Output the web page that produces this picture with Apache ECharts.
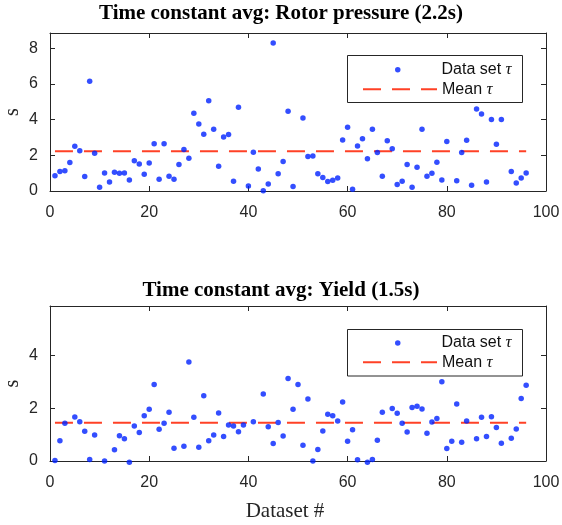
<!DOCTYPE html>
<html>
<head>
<meta charset="utf-8">
<script src="https://cdn.jsdelivr.net/npm/echarts@6/dist/echarts.min.js"></script>
<style>
  html, body { margin: 0; padding: 0; background: #fff; }
  #chart { width: 562px; height: 525px; }
</style>
</head>
<body>
<div id="chart"></div>
<script>
// time constant per dataset (s), null = no value
const rotorTau = [
  0.86, 1.09, 1.14, 1.59, 2.50, 2.26, 0.81, 6.15, 2.11, 0.21,
  1.01, 0.50, 1.05, 0.99, 1.01, 0.62, 1.70, 1.51, 0.94, 1.57,
  2.65, 0.66, 2.65, 0.82, 0.66, 1.48, 2.32, 1.83, 4.35, 3.75,
  3.18, 5.06, 3.46, 1.38, 3.03, 3.16, 0.54, 4.69, null, 0.28,
  2.17, 1.23, 0.02, 0.39, 8.29, 0.97, 1.65, 4.47, 0.25, null,
  4.09, 1.93, 1.96, 0.97, 0.75, 0.53, 0.60, 0.73, 2.86, 3.57,
  0.10, 2.52, 2.93, 1.81, 3.46, 2.15, 0.82, 2.82, 2.37, 0.36,
  0.54, 1.48, 0.21, 1.33, 3.46, 0.82, 0.99, 1.61, 0.62, 2.77,
  null, 0.57, 2.15, 2.84, 0.32, 4.59, 4.31, 0.50, 4.00, 2.62,
  4.00, null, 1.09, 0.45, 0.73, 1.01
];
const yieldTau = [
  0.02, 0.77, 1.43, null, 1.67, 1.49, 1.13, 0.06, 0.99, null,
  0.00, null, 0.43, 0.96, 0.84, -0.05, 1.33, 1.08, 1.72, 1.96,
  2.90, 1.20, 1.43, 1.85, 0.48, null, 0.56, 3.76, 1.66, 0.52,
  2.48, 0.77, 0.99, 1.82, 0.93, 1.37, 1.33, 1.11, 1.37, null,
  1.49, null, 2.54, 1.30, 0.66, 1.46, 0.95, 3.13, 1.96, 2.90,
  0.60, 2.35, 0.00, 0.44, 1.14, 1.77, 1.72, 1.52, 2.24, 0.75,
  1.19, 0.05, null, -0.05, 0.06, 0.79, 1.85, null, 1.99, 1.81,
  1.43, 1.10, 2.03, 2.08, 1.97, 1.05, 1.48, 1.61, 3.01, 0.47,
  0.75, 2.16, 0.71, 1.52, null, 0.84, 1.66, 0.93, 1.68, 1.27,
  0.67, null, 0.86, 1.21, 2.37, 2.87
];
const rotorMean = 2.22;
const yieldMean = 1.45;
const titles = ['Time constant avg: Rotor pressure (2.2s)', 'Time constant avg: Yield (1.5s)'];
const yMax = [8.85, 5.88];

const axisColor = '#262626';
const sans = 'Liberation Sans';
const serif = 'Liberation Serif';
const dotColor = '#0022ff';
const meanColor = '#ff4126';

const toPoints = (vals) => vals.map((v, i) => [i + 1, v]).filter((p) => p[1] !== null);
const meanLine = (vals, m) => [[1, m], [vals.length, m]];

const grids = [
  { left: 50, top: 33, width: 496, height: 158, outerBoundsMode: 'none', containLabel: false },
  { left: 50, top: 306, width: 496, height: 155, outerBoundsMode: 'none', containLabel: false }
];

const tickStyle = { show: true, inside: true, length: 5, lineStyle: { color: axisColor, width: 1 } };
const lineStyle = { show: true, onZero: false, lineStyle: { color: axisColor, width: 1 } };

const xAxis = [];
const yAxis = [];
grids.forEach((g, gi) => {
  xAxis.push({
    type: 'value', gridIndex: gi, min: 0, max: 100, interval: 20, position: 'bottom',
    axisLine: lineStyle, axisTick: tickStyle, splitLine: { show: false },
    axisLabel: { color: axisColor, fontFamily: sans, fontSize: 16, margin: 14 },
    name: gi === 1 ? 'Dataset #' : '',
    nameLocation: 'middle', nameGap: 40, nameMoveOverlap: false,
    nameTextStyle: { fontFamily: serif, fontSize: 21, color: axisColor, padding: [0, 26, 0, 0] }
  });
  xAxis.push({
    type: 'value', gridIndex: gi, min: 0, max: 100, interval: 20, position: 'top',
    axisLine: lineStyle, axisTick: tickStyle, splitLine: { show: false },
    axisLabel: { show: false }
  });
  yAxis.push({
    type: 'value', gridIndex: gi, min: 0, max: yMax[gi], interval: 2, position: 'left',
    axisLine: lineStyle, axisTick: tickStyle, splitLine: { show: false },
    axisLabel: {
      color: axisColor, fontFamily: sans, fontSize: 16, margin: 12,
      formatter: (v) => (v % 2 === 0 ? String(v) : '')
    },
    name: 's', nameLocation: 'middle', nameGap: 27, nameRotate: 90, nameMoveOverlap: false,
    nameTextStyle: { fontFamily: serif, fontSize: 20, color: axisColor }
  });
  yAxis.push({
    type: 'value', gridIndex: gi, min: 0, max: yMax[gi], interval: 2, position: 'right',
    axisLine: lineStyle, axisTick: tickStyle, splitLine: { show: false },
    axisLabel: { show: false }
  });
});

const seriesFor = (vals, m, gi) => [
  {
    name: 'Mean τ', type: 'line', xAxisIndex: gi * 2, yAxisIndex: gi * 2,
    data: meanLine(vals, m), symbol: 'none', z: 2, silent: true,
    lineStyle: { color: meanColor, width: 2, type: [18, 11] }
  },
  {
    name: 'Data set τ', type: 'scatter', xAxisIndex: gi * 2, yAxisIndex: gi * 2,
    data: toPoints(vals), symbol: 'circle', symbolSize: 5.5, z: 3, clip: false,
    itemStyle: { color: dotColor }
  }
];

const legendText = {
  fontFamily: sans, fontSize: 16, color: '#111', lineHeight: 18,
  rich: { t: { fontFamily: serif, fontStyle: 'italic', fontSize: 17, lineHeight: 18 } }
};
const fmt = (name) => name.replace('τ', '{t|τ}');
const legendRows = [[60.7, 80.3], [334, 353.3]];
const legend = [];
legendRows.forEach((rows) => {
  legend.push({
    data: ['Data set τ'], left: 395, top: rows[0], padding: 0, z: 10, align: 'left',
    icon: 'circle', itemWidth: 5.5, itemHeight: 5.5,
    formatter: fmt, textStyle: Object.assign({ padding: [0, 0, 0, 36] }, legendText),
    selectedMode: false
  });
  legend.push({
    data: ['Mean τ'], left: 362, top: rows[1], padding: 0, z: 10, align: 'left',
    itemWidth: 74, itemHeight: 18, itemStyle: { opacity: 0 },
    formatter: fmt, textStyle: legendText, selectedMode: false
  });
});

const chart = echarts.init(document.getElementById('chart'), null, { renderer: 'canvas' });
chart.setOption({
  animation: false,
  backgroundColor: '#fff',
  title: titles.map((t, i) => ({
    text: t, left: 281, top: i === 0 ? 3.5 : 280, padding: 0, textAlign: 'center',
    textStyle: { fontFamily: serif, fontWeight: 'bold', fontSize: 21, color: '#000', lineHeight: 21 }
  })),
  grid: grids,
  xAxis: xAxis,
  yAxis: yAxis,
  legend: legend,
  graphic: [
    { type: 'rect', z: 5, shape: { x: 347.5, y: 55.5, width: 175, height: 47 },
      style: { fill: '#fff', stroke: axisColor, lineWidth: 1 } },
    { type: 'rect', z: 5, shape: { x: 347.5, y: 329.5, width: 175, height: 46.5 },
      style: { fill: '#fff', stroke: axisColor, lineWidth: 1 } }
  ],
  series: [...seriesFor(rotorTau, rotorMean, 0), ...seriesFor(yieldTau, yieldMean, 1)]
});
</script>
</body>
</html>
